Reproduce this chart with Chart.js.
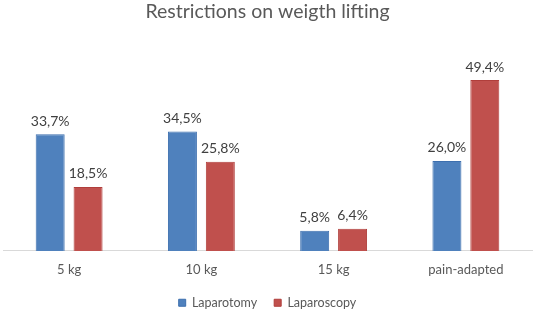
<!DOCTYPE html>
<html>
<head>
<meta charset="utf-8">
<script src="https://cdn.jsdelivr.net/npm/chart.js@4"></script>
<style>
  html, body { margin: 0; padding: 0; background: #fff; }
  #wrap { width: 536px; height: 311px; }
</style>
</head>
<body>
<div id="wrap"><canvas id="weightChart"></canvas></div>
<script>
const categories = ['5 kg', '10 kg', '15 kg', 'pain-adapted'];
const laparotomy = [33.7, 34.5, 5.8, 26.0];
const laparoscopy = [18.5, 25.8, 6.4, 49.4];

const fontFamily = 'Lato, "Open Sans", sans-serif';

// draws the percentage above every bar
const barLabels = {
    id: 'barLabels',
    afterDatasetsDraw(chart) {
        const ctx = chart.ctx;
        ctx.save();
        ctx.font = '14px ' + fontFamily;
        ctx.fillStyle = '#404040';
        ctx.textAlign = 'center';
        ctx.textBaseline = 'bottom';
        chart.data.datasets.forEach((ds, i) => {
            chart.getDatasetMeta(i).data.forEach((bar, j) => {
                const txt = ds.data[j].toFixed(1).replace('.', ',') + '%';
                ctx.fillText(txt, bar.x, bar.y - 6);
            });
        });
        ctx.restore();
    }
};

new Chart(document.getElementById('weightChart').getContext('2d'), {
    type: 'bar',
    data: {
        labels: categories,
        datasets: [{
            label: 'Laparotomy',
            data: laparotomy,
            backgroundColor: '#4f81bd',
            borderColor: '#3d6fae',
            borderWidth: 1
        }, {
            label: 'Laparoscopy',
            data: laparoscopy,
            backgroundColor: '#c0504d',
            borderColor: '#b03e3b',
            borderWidth: 1
        }]
    },
    options: {
        responsive: true,
        maintainAspectRatio: false,
        animation: false,
        categoryPercentage: 0.573,
        barPercentage: 0.765,
        layout: { padding: { left: 3, right: 4, top: 0, bottom: -8 } },
        plugins: {
            title: {
                display: true,
                text: 'Restrictions on weigth lifting',
                color: '#595959',
                font: { family: fontFamily, size: 19.5, weight: 'normal' },
                padding: { top: 0, bottom: 20 }
            },
            legend: {
                position: 'bottom',
                labels: {
                    boxWidth: 7,
                    boxHeight: 7,
                    padding: 17,
                    color: '#595959',
                    font: { family: fontFamily, size: 12.5 }
                }
            },
            tooltip: { enabled: false }
        },
        scales: {
            x: {
                grid: { display: false, drawTicks: false },
                border: { color: '#d9d9d9' },
                ticks: { color: '#595959', font: { family: fontFamily, size: 13 }, padding: 11 },
                afterFit(scale) { scale.height -= 9; }
            },
            y: {
                display: false,
                min: 0,
                max: 60
            }
        }
    },
    plugins: [barLabels]
});
</script>
</body>
</html>
